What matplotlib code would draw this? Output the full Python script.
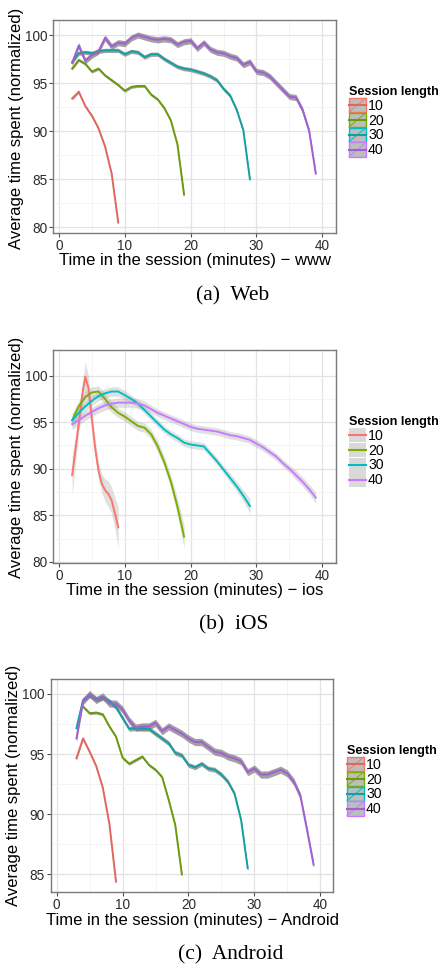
import numpy as np
import matplotlib
matplotlib.use("Agg")
import matplotlib.pyplot as plt
from matplotlib.lines import Line2D
from matplotlib.patches import Rectangle
from matplotlib.legend_handler import HandlerBase

plt.rcParams['font.family'] = ['Liberation Sans', 'DejaVu Sans']

W, H = 441, 967
sessions = ["10", "20", "30", "40"]

# ---- (a) Web: raw means per minute ----
a_x10 = list(range(2, 10))
a_y10 = [93.4, 94.1, 92.6, 91.6, 90.3, 88.4, 85.6, 80.5]
a_x20 = list(range(2, 20))
a_y20 = [96.5, 97.4, 97.0, 96.2, 96.5, 95.8, 95.3, 94.8, 94.2, 94.6, 94.7, 94.7,
         93.8, 93.3, 92.4, 91.1, 88.6, 83.4]
a_x30 = list(range(2, 30))
a_y30 = [97.2, 98.1, 98.2, 98.1, 98.3, 98.4, 98.4, 98.4, 98.0, 98.3, 98.2, 97.7,
         98.0, 98.0, 97.5, 97.1, 96.7, 96.5, 96.4, 96.2, 96.0, 95.7, 95.3, 94.4,
         93.7, 92.2, 90.1, 85.0]
a_x40 = list(range(2, 40))
a_y40 = [97.1, 98.9, 97.3, 97.9, 98.3, 99.7, 98.8, 99.2, 99.1, 99.7, 100.0, 99.8,
         99.6, 99.5, 99.6, 99.5, 99.0, 99.3, 99.4, 98.6, 99.2, 98.5, 98.2, 98.1,
         97.8, 97.6, 96.9, 97.2, 96.2, 96.1, 95.7, 95.0, 94.3, 93.6, 93.5, 92.2,
         90.0, 85.6]
a_se = [0.15, 0.15, 0.22, 0.32]

# ---- (b) iOS: smoothed curves ----
b_x10 = [2, 2.5, 3, 3.5, 4, 4.5, 5, 5.5, 6, 6.5, 7, 7.5, 8, 8.5, 9]
b_y10 = [89.3, 92.0, 94.8, 97.8, 99.9, 98.6, 95.3, 92.2, 89.8, 88.4, 87.7, 87.3,
         86.6, 85.2, 83.7]
b_se10 = [2.1, 1.6, 1.1, 1.1, 1.6, 1.3, 1.0, 0.9, 0.9, 1.0, 1.2, 1.4, 1.4, 1.7, 2.2]
b_x20 = list(range(2, 20))
b_y20 = [95.2, 96.7, 97.7, 98.2, 98.3, 97.5, 96.6, 96.0, 95.6, 95.1, 94.6, 94.4,
         93.7, 92.4, 90.7, 88.6, 85.9, 82.7]
b_se20 = [0.8, 0.6, 0.6, 0.6, 0.6, 0.6, 0.6, 0.5, 0.5, 0.5, 0.5, 0.5, 0.5, 0.6,
          0.6, 0.7, 0.9, 1.2]
b_x30 = list(range(2, 30))
b_y30 = [95.2, 96.0, 96.7, 97.3, 97.8, 98.1, 98.3, 98.3, 97.9, 97.5, 97.0, 96.3,
         95.6, 94.9, 94.2, 93.7, 93.3, 92.8, 92.6, 92.5, 92.4, 91.6, 90.8, 89.9,
         89.0, 88.1, 87.1, 86.0]
b_se30 = [0.7, 0.6, 0.5, 0.5, 0.5, 0.5, 0.5, 0.5, 0.5, 0.4, 0.4, 0.4, 0.4, 0.4,
          0.4, 0.4, 0.4, 0.4, 0.4, 0.4, 0.4, 0.4, 0.4, 0.4, 0.5, 0.5, 0.6, 0.8]
b_x40 = list(range(2, 40))
b_y40 = [94.8, 95.2, 95.7, 96.1, 96.5, 96.8, 97.0, 97.1, 97.1, 97.1, 97.0, 96.8,
         96.4, 96.0, 95.7, 95.4, 95.1, 94.8, 94.5, 94.3, 94.2, 94.1, 94.0, 93.8,
         93.6, 93.5, 93.3, 93.1, 92.7, 92.3, 91.8, 91.3, 90.6, 90.0, 89.3, 88.6,
         87.8, 86.9]
b_se40 = [0.6, 0.5, 0.5, 0.5, 0.5, 0.5, 0.5, 0.5, 0.5, 0.5, 0.5, 0.5, 0.4, 0.4,
          0.4, 0.4, 0.4, 0.4, 0.4, 0.4, 0.4, 0.4, 0.4, 0.4, 0.4, 0.4, 0.4, 0.4,
          0.4, 0.4, 0.4, 0.4, 0.4, 0.4, 0.5, 0.5, 0.5, 0.6]

# ---- (c) Android: raw means per minute ----
c_x10 = list(range(3, 10))
c_y10 = [94.65, 96.3, 95.2, 94.0, 92.2, 89.2, 84.4]
c_x20 = list(range(4, 20))
c_y20 = [98.95, 98.4, 98.45, 98.3, 97.3, 96.45, 94.7, 94.2, 94.5, 94.8, 94.1,
         93.7, 93.1, 91.2, 89.1, 85.0]
c_x30 = list(range(3, 30))
c_y30 = [97.15, 99.5, 99.9, 99.55, 99.7, 99.4, 98.9, 98.0, 97.1, 97.15, 97.1,
         97.1, 96.7, 96.3, 95.9, 95.1, 94.9, 94.1, 93.9, 94.2, 93.8, 93.7, 93.3,
         92.7, 91.7, 89.5, 85.5]
c_x40 = list(range(3, 40))
c_y40 = [96.3, 99.4, 100.0, 99.5, 99.8, 99.2, 99.2, 98.7, 97.8, 97.2, 97.3, 97.3,
         97.6, 96.9, 97.3, 97.0, 96.7, 96.3, 96.0, 96.0, 95.6, 95.2, 95.1, 94.8,
         94.65, 94.4, 93.5, 93.8, 93.3, 93.3, 93.5, 93.7, 93.4, 92.7, 91.5, 88.7,
         85.8]
c_se = [0.12, 0.12, 0.2, 0.3]

hue = ["#F8766D", "#7CAE00", "#00BFC4", "#C77CFF"]
dark = ["#E4675E", "#6C9A0C", "#14A0A3", "#A35ED3"]


def px(x, y):
    return x / W, 1 - y / H


class KeyHandler(HandlerBase):
    def __init__(self, fill, edges=None, slash=False):
        super().__init__()
        self.fill, self.edges, self.slash = fill, edges, slash

    def create_artists(self, legend, orig_handle, xdescent, ydescent, width,
                       height, fontsize, trans):
        x0, y0 = -xdescent, -ydescent
        idx = orig_handle.get_gid()
        arts = [Rectangle((x0, y0), width, height, facecolor=self.fill,
                          edgecolor=self.edges[idx] if self.edges else "none",
                          lw=1.0, transform=trans)]
        if self.slash:
            arts.append(Line2D([x0, x0 + width], [y0, y0 + height],
                               color=self.edges[idx], lw=0.7, transform=trans))
        arts.append(Line2D([x0, x0 + width], [y0 + height / 2] * 2,
                           color=orig_handle.get_color(), lw=1.5,
                           transform=trans))
        return arts


def panel(box, xlim, ylim, yticks, xs, ys, ses, colors, band, band_alpha,
          xlabel, ylab_pos, xlab_pos, caption, cap_pos, leg_pos, handler):
    l, t, r, b = box
    ax = fig.add_axes([l / W, 1 - b / H, (r - l) / W, (b - t) / H])
    handles = []
    for i, (x, y, s) in enumerate(zip(xs, ys, ses)):
        x = np.array(x)
        y = np.array(y)
        s = np.array(s) if np.ndim(s) else s
        ax.fill_between(x, y - s, y + s, color=band, alpha=band_alpha, lw=0,
                        zorder=2)
        ln, = ax.plot(x, y, color=colors[i], lw=1.4, zorder=3,
                      solid_joinstyle="round", label=sessions[i])
        ln.set_gid(i)
        handles.append(ln)
    ax.set_xlim(*xlim)
    ax.set_ylim(*ylim)
    ax.set_xticks([0, 10, 20, 30, 40])
    ax.set_xticks([5, 15, 25, 35], minor=True)
    ax.set_yticks(yticks)
    ax.set_yticks([v + 2.5 for v in yticks[:-1]], minor=True)
    ax.grid(which="major", color="#E3E3E3", lw=0.9, zorder=0)
    ax.grid(which="minor", color="#F3F3F3", lw=0.6, zorder=0)
    ax.set_axisbelow(True)
    for sp in ax.spines.values():
        sp.set_color("#7A7A7A")
        sp.set_linewidth(1.0)
    ax.tick_params(which="major", length=3.2, width=0.8, color="#4D4D4D",
                   labelsize=9.8, labelcolor="#2B2B2B", pad=1.2)
    ax.tick_params(which="minor", length=0)
    fig.text(*px(*xlab_pos), xlabel, fontsize=12, ha="center", va="center")
    fig.text(*px(*ylab_pos), "Average time spent (normalized)", fontsize=12,
             ha="center", va="center", rotation=90)
    fig.text(*px(*cap_pos), caption, fontsize=15.5, ha="center", va="center",
             family=["Liberation Serif", "DejaVu Serif"])
    fig.legend(handles=handles, loc="upper left",
               bbox_to_anchor=px(*leg_pos),
               bbox_transform=fig.transFigure, frameon=False,
               title="Session length", alignment="left",
               title_fontproperties={"weight": "bold", "size": 9.1},
               fontsize=10.2, handlelength=1.2, handleheight=1.15,
               labelspacing=0.0, handletextpad=0.15, borderpad=0,
               borderaxespad=0, handler_map={Line2D: handler})
    return ax


fig = plt.figure(figsize=(W / 100, H / 100), dpi=100)
fig.patch.set_facecolor("white")

raw_handler = KeyHandler("#BDBDBD", edges=hue, slash=True)
smooth_handler = KeyHandler("#D9D9D9")

panel((53.3, 20, 335.7, 233), (-0.86, 42.03), (79.41, 101.56),
      [80, 85, 90, 95, 100],
      [a_x10, a_x20, a_x30, a_x40], [a_y10, a_y20, a_y30, a_y40], a_se,
      dark, "#7A7A7A", 0.7,
      "Time in the session (minutes) \u2212 www", (17, 128), (195, 261),
      "(a)  Web", (233, 296), (349, 86), raw_handler)

panel((53.3, 350, 335.7, 562.7), (-0.86, 42.03), (79.9, 102.76),
      [80, 85, 90, 95, 100],
      [b_x10, b_x20, b_x30, b_x40], [b_y10, b_y20, b_y30, b_y40],
      [b_se10, b_se20, b_se30, b_se40],
      hue, "#999999", 0.3,
      "Time in the session (minutes) \u2212 ios", (17, 457), (195, 590),
      "(b)  iOS", (234, 625), (349, 416), smooth_handler)

panel((50.7, 679.3, 332.7, 891.7), (-0.91, 41.9), (83.56, 101.22),
      [85, 90, 95, 100],
      [c_x10, c_x20, c_x30, c_x40], [c_y10, c_y20, c_y30, c_y40], c_se,
      dark, "#7A7A7A", 0.7,
      "Time in the session (minutes) \u2212 Android", (14, 785), (192, 920),
      "(c)  Android", (231, 955), (347, 745), raw_handler)

fig.savefig("out.png", dpi=100)
